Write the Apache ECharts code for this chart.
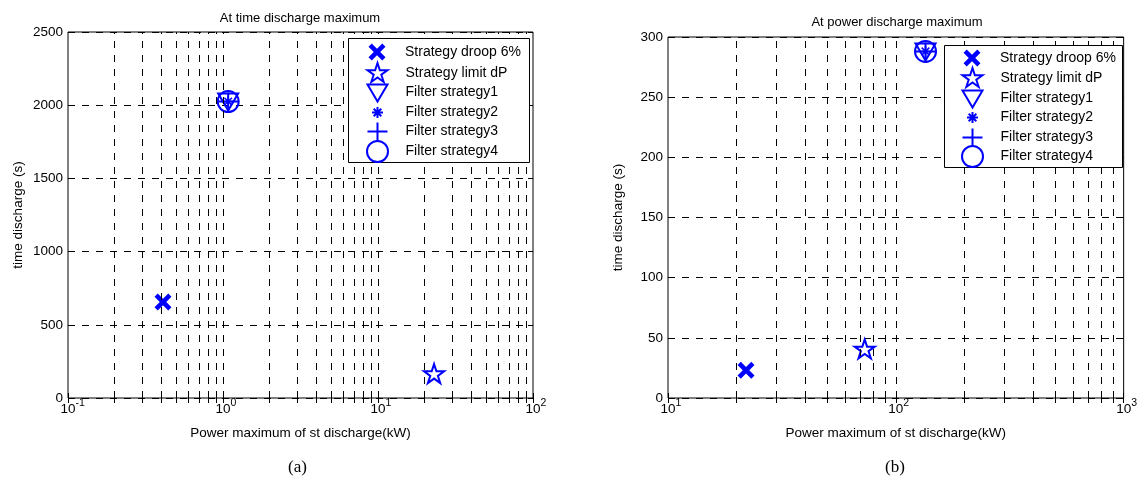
<!DOCTYPE html>
<html><head><meta charset="utf-8">
<script src="https://cdn.jsdelivr.net/npm/echarts@6/dist/echarts.min.js"></script>
<style>html,body{margin:0;padding:0;background:#fff}#c{width:1140px;height:482px}</style>
</head><body><div id="c"></div>
<script>
// ---------- data ----------
const seriesNames = ['Strategy droop 6%', 'Strategy limit dP', 'Filter strategy1', 'Filter strategy2', 'Filter strategy3', 'Filter strategy4'];
// chart (a): At time discharge maximum  [power kW, time s]
const aDroop   = [[0.41, 655]];
const aLimit   = [[23, 160]];
const aFilter1 = [[1.08, 2025]];
const aFilter2 = [[1.08, 2025]];
const aFilter3 = [[1.08, 2025]];
const aFilter4 = [[1.08, 2025]];
// chart (b): At power discharge maximum
const bDroop   = [[22, 23]];
const bLimit   = [[73, 40]];
const bFilter1 = [[135, 288]];
const bFilter2 = [[135, 288]];
const bFilter3 = [[135, 288]];
const bFilter4 = [[135, 288]];
// tick values (log decades with minor ticks)
const aXTicks = [0.1,0.2,0.3,0.4,0.5,0.6,0.7,0.8,0.9,1,2,3,4,5,6,7,8,9,10,20,30,40,50,60,70,80,90,100];
const bXTicks = [10,20,30,40,50,60,70,80,90,100,200,300,400,500,600,700,800,900,1000];
const aYRange = [0, 2500, 500];
const bYRange = [0, 300, 50];
const titles = ['At time discharge maximum', 'At power discharge maximum'];
const xName = 'Power maximum of st discharge(kW)';
const yName = 'time discharge (s)';
const captions = ['(a)', '(b)'];

// ---------- marker shapes (22x22 frame) ----------
const F = 'M0,0 M22,22 ';
const symX = 'path://' + F + 'M2.5,5.75 L5.75,2.5 L11,7.75 L16.25,2.5 L19.5,5.75 L14.25,11 L19.5,16.25 L16.25,19.5 L11,14.25 L5.75,19.5 L2.5,16.25 L7.75,11 Z';
const symStar = 'path://' + F + 'M11,0.5 L13.36,7.76 L20.99,7.76 L14.81,12.24 L17.17,19.49 L11,15.01 L4.83,19.49 L7.19,12.24 L1.01,7.76 L8.64,7.76 Z';
const symTri = 'path://' + F + 'M1,3 L21,3 L11,20 Z';
const symAst = 'path://' + F + 'M11,5.5 L11,16.5 M5.5,11 L16.5,11 M7.2,7.2 L14.8,14.8 M14.8,7.2 L7.2,14.8';
const symPlus = 'path://' + F + 'M1,11 L21,11 M11,2 L11,20';
const symCircle = 'path://' + F + 'M0.5,11 A10.5,10.5 0 1,1 21.5,11 A10.5,10.5 0 1,1 0.5,11 Z';
const symbols = [symX, symStar, symTri, symAst, symPlus, symCircle];
const BLUE = '#0000ff';
const FONT = 'Liberation Sans, Arial, sans-serif';

function itemStyleFor(i) {
  if (i === 0) return { color: BLUE, borderWidth: 0, opacity: 1 };
  return { color: 'none', borderColor: BLUE, borderWidth: i === 3 ? 1.5 : 2, opacity: 1 };
}

const grids = [
  { left: 68, right: 607, top: 32, bottom: 84 },
  { left: 668, right: 14, top: 37, bottom: 84 }
];

function xAxes(gi, ticks) {
  const min = ticks[0], max = ticks[ticks.length - 1];
  const base = {
    type: 'log', logBase: 10, gridIndex: gi, min: min, max: max,
    axisLine: { show: false },
    splitLine: { show: false },
    axisTick: { show: true, inside: true, length: 5, customValues: ticks, lineStyle: { color: '#000', width: 1 } }
  };
  return [
    Object.assign({}, base, {
      position: 'bottom',
      name: xName, nameLocation: 'middle', nameGap: 28,
      nameTextStyle: { fontSize: 13.5, fontFamily: FONT, color: '#000' },
      axisLabel: {
        show: true, margin: 0, showMinLabel: true, showMaxLabel: true,
        formatter: function (v) {
          const e = Math.round(Math.log10(v));
          return '{p|' + e + '}{b|10}{s|' + e + '}';
        },
        rich: {
          p: { fontSize: 10.5, fontFamily: FONT, color: 'rgba(0,0,0,0)', lineHeight: 8, verticalAlign: 'top' },
          b: { fontSize: 13.5, fontFamily: FONT, color: '#000', lineHeight: 18, verticalAlign: 'bottom' },
          s: { fontSize: 10.5, fontFamily: FONT, color: '#000', lineHeight: 8, verticalAlign: 'top' }
        }
      }
    }),
    Object.assign({}, base, { position: 'top', axisLabel: { show: false } })
  ];
}

function yAxes(gi, r) {
  const base = {
    type: 'value', gridIndex: gi, min: r[0], max: r[1], interval: r[2],
    axisLine: { show: false },
    axisTick: { show: true, inside: true, length: 5, lineStyle: { color: '#000', width: 1 } }
  };
  return [
    Object.assign({}, base, {
      position: 'left',
      name: yName, nameLocation: 'middle', nameGap: 43,
      nameTextStyle: { fontSize: 13.5, fontFamily: FONT, color: '#000' },
      axisLabel: { show: true, margin: 5, fontSize: 13.5, fontFamily: FONT, color: '#000', formatter: function (v) { return String(v); } },
      splitLine: { show: true, lineStyle: { color: '#000', width: 1, type: [7, 7] } }
    }),
    Object.assign({}, base, { position: 'right', axisLabel: { show: false }, splitLine: { show: false } })
  ];
}

const aData = [aDroop, aLimit, aFilter1, aFilter2, aFilter3, aFilter4];
const bData = [bDroop, bLimit, bFilter1, bFilter2, bFilter3, bFilter4];

function gridSeries(xi, yi, ticks) {
  const inner = ticks.slice(1, ticks.length - 1);
  return {
    type: 'scatter', name: '_grid', xAxisIndex: xi, yAxisIndex: yi, data: [], silent: true, z: 1,
    markLine: {
      silent: true, animation: false, symbol: ['none', 'none'], label: { show: false },
      lineStyle: { color: '#000', width: 1, type: [7, 7] },
      emphasis: { disabled: true },
      data: inner.map(function (v) { return { xAxis: v }; })
    }
  };
}

const series = [gridSeries(0, 0, aXTicks), gridSeries(2, 2, bXTicks)];
[aData, bData].forEach(function (set, ci) {
  set.forEach(function (d, i) {
    series.push({
      type: 'scatter', name: seriesNames[i], xAxisIndex: ci * 2, yAxisIndex: ci * 2,
      data: d, symbol: symbols[i], symbolSize: 22, itemStyle: itemStyleFor(i), z: 3,
      emphasis: { disabled: true }
    });
  });
});

// one legend component per row, so the row pitch matches the original box
const legendBoxes = [
  { x: 348, y: 38, w: 181, h: 124, iconCenter: 377, firstRow: 52, pitch: 19.6 },
  { x: 944, y: 45, w: 178, h: 122, iconCenter: 972, firstRow: 58, pitch: 19.4 }
];
const legends = [];
legendBoxes.forEach(function (b) {
  seriesNames.forEach(function (n, i) {
    const c = b.firstRow + i * b.pitch;
    const offX = i === 0 ? 11 : 13;   // stroked icons have a larger bounding box
    const offY = i === 0 ? 11 : 12;
    legends.push({
      orient: 'vertical', left: b.iconCenter - offX, top: Math.round(c - offY), padding: 0,
      itemWidth: 46, itemHeight: 22, itemGap: 0,
      selectedMode: false, z: 10,
      textStyle: { fontSize: 14, fontFamily: FONT, color: '#000' },
      data: [n]
    });
  });
});

const option = {
  animation: false,
  backgroundColor: '#fff',
  grid: grids.map(function (g) { return Object.assign({ show: true, borderColor: '#000', borderWidth: 1, backgroundColor: 'transparent', z: 4 }, g); }),
  title: [
    { text: titles[0], left: 300, top: 12, textAlign: 'center', padding: 0, textStyle: { fontSize: 13, fontWeight: 'normal', fontFamily: FONT, color: '#000' } },
    { text: titles[1], left: 897, top: 16, textAlign: 'center', padding: 0, textStyle: { fontSize: 13, fontWeight: 'normal', fontFamily: FONT, color: '#000' } }
  ],
  legend: legends,
  xAxis: xAxes(0, aXTicks).concat(xAxes(1, bXTicks)),
  yAxis: yAxes(0, aYRange).concat(yAxes(1, bYRange)),
  graphic: legendBoxes.map(function (b) {
    return { type: 'rect', z: 8, silent: true, shape: { x: b.x + 0.5, y: b.y + 0.5, width: b.w, height: b.h }, style: { fill: '#fff', stroke: '#000', lineWidth: 1 } };
  }).concat([
    { type: 'text', left: 288, top: 459, z: 8, style: { text: captions[0], fontSize: 17, fontFamily: 'Liberation Serif, Times New Roman, serif', fill: '#000' } },
    { type: 'text', left: 885, top: 459, z: 8, style: { text: captions[1], fontSize: 17, fontFamily: 'Liberation Serif, Times New Roman, serif', fill: '#000' } }
  ]),
  series: series
};
const chart = echarts.init(document.getElementById('c'), null, { renderer: 'canvas' });
chart.setOption(option);
</script>
</body></html>
